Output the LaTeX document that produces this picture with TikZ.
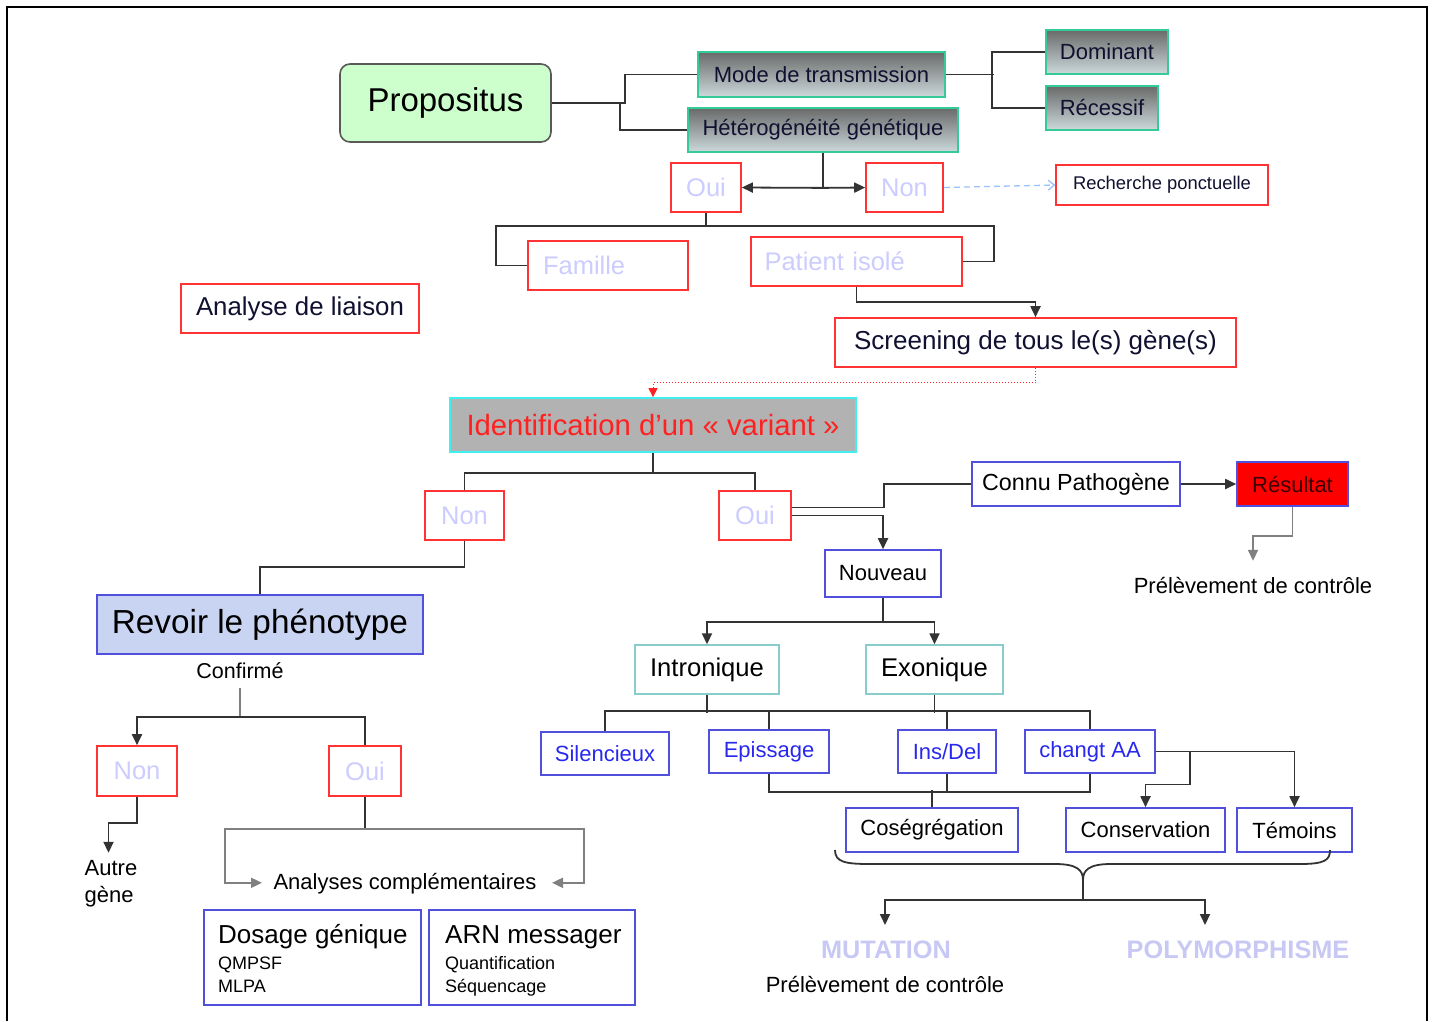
\documentclass[tikz,border=0pt]{standalone}
\usepackage{fontspec}
\setmainfont{Liberation Sans}
\usetikzlibrary{arrows.meta}
\newcommand{\fsz}[1]{\fontsize{#1}{#1}\selectfont}

\definecolor{lnc}{HTML}{333333}
\definecolor{lngray}{HTML}{808080}
\definecolor{boxred}{HTML}{FF3333}
\definecolor{lav}{HTML}{CCCCFF}
\definecolor{greenb}{HTML}{33CC99}
\definecolor{gtop}{HTML}{6A6A6A}
\definecolor{gbot}{HTML}{CCD9DB}
\definecolor{navy}{HTML}{101030}
\definecolor{blueb}{HTML}{5050DD}
\definecolor{bluet}{HTML}{2828EE}
\definecolor{tealb}{HTML}{88CCCC}
\definecolor{propf}{HTML}{CCFFCC}
\definecolor{identf}{HTML}{B2B2B2}
\definecolor{identb}{HTML}{40F0F0}
\definecolor{identt}{HTML}{FF2020}
\definecolor{revf}{HTML}{C9D4F2}
\definecolor{resf}{HTML}{FF0000}
\definecolor{rest}{HTML}{3A0000}
\definecolor{dashb}{HTML}{99C2FF}
\definecolor{mutc}{HTML}{C8C8F5}

\tikzset{
  ln/.style={draw=lnc, line width=1.8pt},
  ar/.style={ln, -{Triangle[length=11pt,width=10pt]}},
  bx/.style 2 args={minimum width=#1, minimum height=#2, inner sep=0pt},
  rbox/.style={draw=boxred, line width=1.6pt, fill=white},
  choice/.style={rbox, text=lav, font=\fsz{25.5}},
  gbox/.style={draw=greenb, line width=1.8pt, top color=gtop, bottom color=gbot, text=navy, font=\fsz{22}},
  bbox/.style={draw=blueb, line width=1.6pt, fill=white, font=\fsz{22}},
  btxt/.style={bbox, text=bluet},
  tbox/.style={draw=tealb, line width=1.4pt, fill=white, font=\fsz{25.6}},
  lbl/.style={inner sep=1pt, font=\fsz{22}},
  mut/.style={inner sep=1pt, text=mutc, font=\bfseries\fsz{25.3}},
}

\begin{document}
\begin{tikzpicture}[x=1pt,y=-1pt]
\useasboundingbox (0,0) rectangle (1435,1021);

% outer frame
\draw[black, line width=2pt] (7,1021) -- (7,7) -- (1427,7) -- (1427,1021);

% ---- top level ----
\node[bx={211}{78}, rounded corners=10pt, fill=propf, draw=gray!70!black, line width=1.6pt, font=\fsz{33}] (prop) at (445.5,103) {Propositus};
\node[gbox, bx={247}{45}] (mode) at (821.5,74.5) {Mode de transmission};
\node[gbox, bx={270}{44}] (het) at (823,130) {Hétérogénéité génétique};
\node[gbox, bx={122}{44}] (dom) at (1107,52) {Dominant};
\node[gbox, bx={112}{44}] (rec) at (1102,108) {Récessif};

\node[choice, bx={70}{49}] (oui1) at (706,187.5) {Oui};
\node[choice, bx={77}{49}] (non1) at (904.5,187.5) {Non};
\node[rbox, bx={212}{40}, font=\fsz{18.4}, text=navy] (rech) at (1162,185) {Recherche ponctuelle};

\node[choice, bx={160}{49}, text width=130pt, align=left] (fam) at (608,265.5) {Famille};
\node[choice, bx={211}{49}, text width=184pt, align=left] (pat) at (856.5,261.5) {Patient isolé};
\node[rbox, bx={238}{49}, font=\fsz{25.8}, text=navy] (liai) at (300,308.5) {Analyse de liaison};
\node[rbox, bx={401}{49}, font=\fsz{26}, text=navy] (scr) at (1035.5,342.5) {Screening de tous le(s) gène(s)};

\node[bx={406}{54}, fill=identf, draw=identb, line width=1.8pt, text=identt, font=\fsz{29.3}] (ident) at (653,425) {Identification d’un «~variant~»};

\node[choice, bx={79}{49}] (non2) at (464.5,515.5) {Non};
\node[choice, bx={72}{49}] (oui2) at (755,515.5) {Oui};

\node[bbox, bx={208}{44}, font=\fsz{23.3}] (connu) at (1076,484) {Connu Pathogène};
\node[bx={111}{44}, fill=resf, draw=blueb, line width=1.6pt, text=rest, font=\fsz{22}] (res) at (1292.5,484) {Résultat};
\node[lbl] (prel1) at (1253,585) {Prélèvement de contrôle};

\node[bbox, bx={116}{47}] (nouv) at (883,573.5) {Nouveau};

\node[bx={326}{59}, fill=revf, draw=blueb, line width=1.6pt, font=\fsz{33.3}] (revoir) at (260,624.5) {Revoir le phénotype};
\node[lbl, font=\fsz{21.5}] (conf) at (240,671) {Confirmé};

\node[tbox, bx={144}{49}] (intr) at (707,669.5) {Intronique};
\node[tbox, bx={137}{49}] (exon) at (934.5,669.5) {Exonique};

\node[btxt, bx={128}{43}] (sil) at (605,753.5) {Silencieux};
\node[btxt, bx={120}{43}] (epi) at (769,751.5) {Epissage};
\node[btxt, bx={98}{43}] (ins) at (947,751.5) {Ins/Del};
\node[btxt, bx={130}{43}] (chg) at (1090,751.5) {changt AA};

\node[bbox, bx={172}{44}] (cos) at (932,830) {Coségrégation};
\node[bbox, bx={159}{44}] (cons) at (1145.5,830) {Conservation};
\node[bbox, bx={115}{44}] (tem) at (1294.5,830) {Témoins};

\node[choice, bx={80}{50}] (non3) at (137,771) {Non};
\node[choice, bx={72}{50}] (oui3) at (365,771) {Oui};
\node[lbl, align=left, font=\fontsize{22}{27}\selectfont] (autre) at (111,884) {Autre\\gène};
\node[lbl] (anal) at (405,884) {Analyses complémentaires};

% lower-left boxes with their contents
\node[bbox, bx={217}{95}] (dos) at (312.5,957.5) {};
\node[anchor=base west, inner sep=0pt, font=\fsz{26}] (dos1) at (218,943) {Dosage génique};
\node[anchor=base west, inner sep=0pt, font=\fsz{18}] (dos2) at (218,969) {QMPSF};
\node[anchor=base west, inner sep=0pt, font=\fsz{18}] (dos3) at (218,992) {MLPA};
\node[bbox, bx={206}{95}] (arn) at (532,957.5) {};
\node[anchor=base west, inner sep=0pt, font=\fsz{26}] (arn1) at (445,943) {ARN messager};
\node[anchor=base west, inner sep=0pt, font=\fsz{18}] (arn2) at (445,969) {Quantification};
\node[anchor=base west, inner sep=0pt, font=\fsz{18}] (arn3) at (445,992) {Séquencage};

\node[mut] (mutn) at (886,950) {MUTATION};
\node[mut] (poly) at (1238,950) {POLYMORPHISME};
\node[lbl] (prel2) at (885,984) {Prélèvement de contrôle};

% ---- connectors ----
\draw[ln] (prop.east) -- ++(73,0) |- (mode.west);
\draw[ln] (prop.east) -- ++(68,0) |- (het.west);
\draw[ln] (mode.east) -- ++(48,0);
\draw[ln] (dom.west) -- ++(-53,0) |- (rec.west);

\draw[ln] (het.south) -- ++(0,35) coordinate (hj);
\draw[ar] (hj) -- (oui1.east);
\draw[ar] (hj) -- (non1.west);
\draw[draw=dashb, line width=1.3pt, dash pattern=on 6pt off 4pt, -{Straight Barb[length=6pt,width=10pt]}] (non1.east) -- (rech.west);

\draw[ln] (oui1.south) -- ++(0,13) coordinate (oj);
\draw[ln] (oj) -- ++(-210,0) |- (fam.west);
\draw[ln] (oj) -- ++(288,0) |- (pat.east);
\draw[ar] (pat.south) -- ++(0,15) -| (scr.north);
\draw[draw=identt, line width=1pt, dotted, -{Triangle[length=9pt,width=9pt]}] (scr.south) -- ++(0,15) -| (ident.north);

\draw[ln] (ident.south) -- ++(0,20) coordinate (ij);
\draw[ln] (ij) -| (non2.north);
\draw[ln] (ij) -| (oui2.north);
\draw[ln] (non2.south) -- ++(0,26) -| (revoir.north);

\draw[ln] ([yshift=8]oui2.east) -- ++(92,0) |- (connu.west);
\draw[ar] (oui2.east) -| (nouv.north);
\draw[ar] (connu.east) -- (res.west);
\draw[ar, draw=lngray] (res.south) -- ++(0,29) -| ++(-39.5,25);

\draw[ln] (nouv.south) -- ++(0,24) coordinate (nj);
\draw[ar] (nj) -| (intr.north);
\draw[ar] (nj) -| (exon.north);

\draw[ln] (sil.north) -- ++(0,-20) -| (chg.north);
\draw[ln] (intr.south) -- ++(0,18);
\draw[ln] (exon.south) -- ++(0,18);
\draw[ln] (epi.north) -- ++(0,-18);
\draw[ln] (ins.north) -- ++(0,-18);

\draw[ln] (epi.south) -- ++(0,18) -| (chg.south);
\draw[ln] (ins.south) -- ++(0,18);
\draw[ln] (cos.north) -- ++(0,-17);

\draw[ar] (chg.east) -| (tem.north);
\draw[ar] (chg.east) -- ++(34,0) -- ++(0,33) -| (cons.north);

% brace gathering the three criteria
\draw[ln] (835,850) .. controls (835,862) and (845,864) .. (870,864) -- (1055,864)
  .. controls (1077,864) and (1083,870) .. (1083,880)
  .. controls (1083,870) and (1089,864) .. (1111,864) -- (1300,864)
  .. controls (1325,864) and (1330,860) .. (1330,850);
\coordinate (bt) at (1083,880);
\draw[ln] (bt) -- ++(0,20) coordinate (bj);
\draw[ar] (bj) -- ++(-198,0) -- ++(0,25);
\draw[ar] (bj) -- ++(122,0) -- ++(0,25);

% lower-left branch
\coordinate (cj) at (240,717);
\draw[ln, draw=lngray] (conf.south) ++(0,8) -- (cj);
\draw[ar] (cj) -| (non3.north);
\draw[ln] (cj) -| (oui3.north);
\draw[ar] (non3.south) -- ++(0,26) -| ++(-28.5,30);
\draw[ln] (oui3.south) -- ++(0,32) coordinate (aj);
\draw[ar, draw=lngray] (aj) -- ++(-140,0) -- ++(0,54) -- ++(37,0);
\draw[ar, draw=lngray] (aj) -- ++(219,0) -- ++(0,54) -- ++(-32,0);
\end{tikzpicture}
\end{document}
